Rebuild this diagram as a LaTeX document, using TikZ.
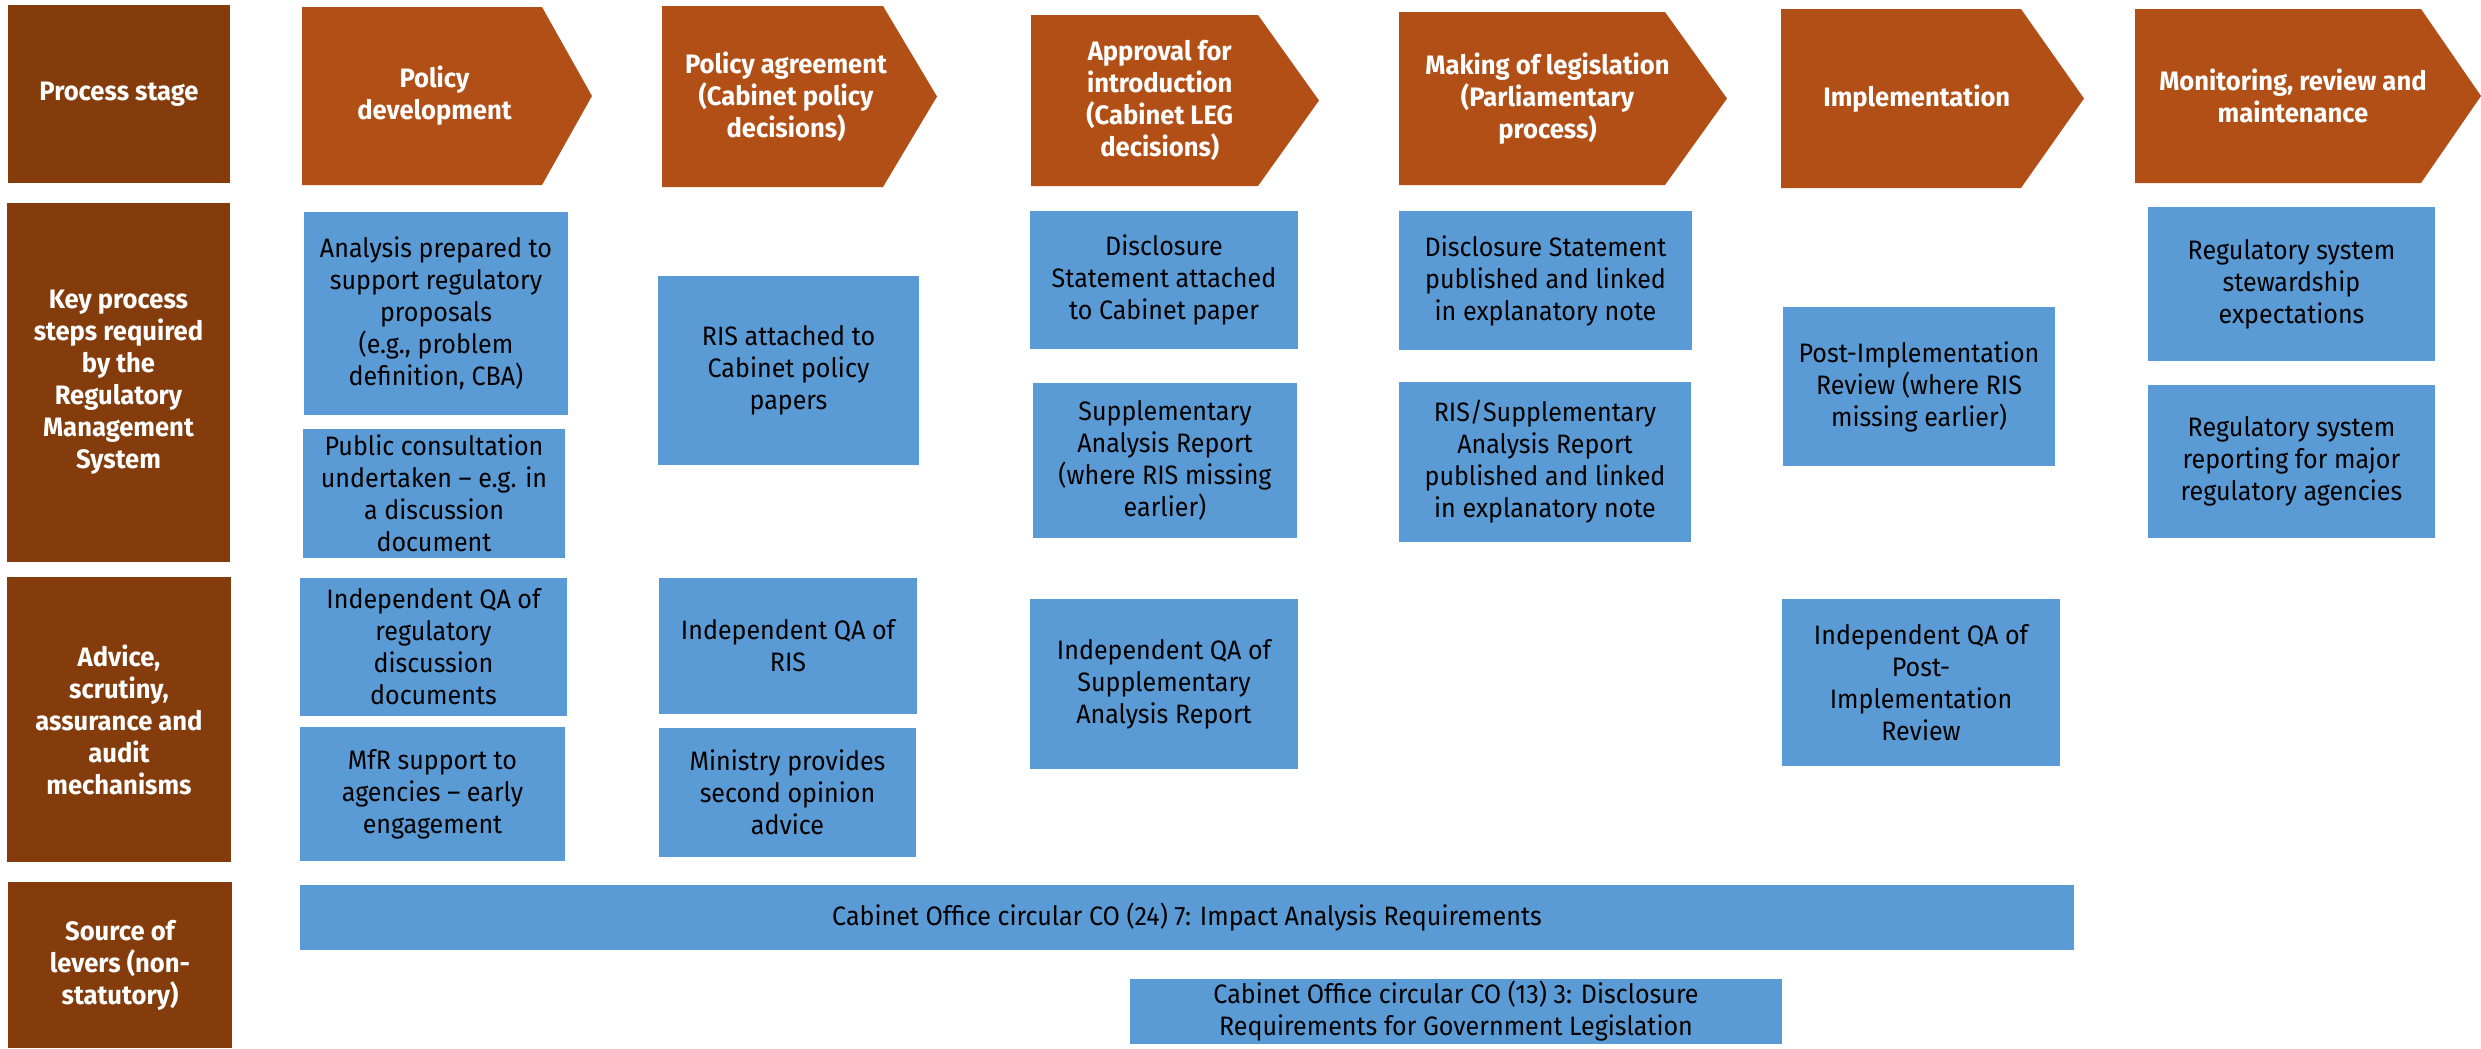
\documentclass[tikz,border=0pt]{standalone}
\usepackage{fontspec}
\setmainfont{Fira Sans}[FakeStretch=0.94]
\newfontfamily\hdfam{Fira Sans}[FakeStretch=0.96]
\definecolor{sidebrown}{HTML}{843C0C}
\definecolor{chevorange}{HTML}{B24F17}
\definecolor{boxblue}{HTML}{5B9BD5}
\newcommand\txtfont{\fontsize{8}{9.6}\selectfont}
\newcommand\hdfont{\hdfam\fontsize{8}{9.6}\selectfont\bfseries}
\tikzset{
  sidebox/.style={fill=sidebrown, text=white, font=\hdfont, align=center, inner sep=0pt},
  bluebox/.style={fill=boxblue, text=black, font=\txtfont, align=center, inner sep=0pt},
  headtext/.style={text=white, font=\hdfont, align=center, inner sep=0pt},
  chevfill/.style={fill=chevorange}
}
% #1 style, #2 name, #3 x1, #4 y1, #5 x2, #6 y2, #7 text
\newcommand\cell[7]{\node[#1, minimum width={(#5-#3)*0.3pt}, minimum height={(#6-#4)*0.3pt}] (#2) at ({(#3+#5)/2},{(#4+#6)/2}) {#7};}
% #1 name, #2 left, #3 top, #4 body right, #5 tip, #6 bottom, #7 text
\newcommand\chev[7]{\fill[chevfill] (#2,#3) -- (#4,#3) -- (#5,{(#3+#6)/2}) -- (#4,#6) -- (#2,#6) -- cycle;
  \node[headtext] (#1) at ({(#2+(#4+#5)/2)/2},{(#3+#6)/2}) {#7};}
\begin{document}
\begin{tikzpicture}[x=0.3pt,y=-0.3pt]
\useasboundingbox (0,0) rectangle (2481,1048);
% left column
\cell{sidebox}{rowstage}{8}{5}{230}{183}{Process stage}
\cell{sidebox}{rowkey}{7}{203}{230}{562}{Key process\\steps required\\by the\\Regulatory\\Management\\System}
\cell{sidebox}{rowadvice}{7}{577}{231}{862}{Advice,\\scrutiny,\\assurance and\\audit\\mechanisms}
\cell{sidebox}{rowsource}{8}{882}{232}{1048}{Source of\\levers (non-\\statutory)}
% chevrons
\chev{stage1}{302}{7}{542}{592}{185}{Policy\\development}
\chev{stage2}{662}{6}{883}{937}{187}{Policy agreement\\(Cabinet policy\\decisions)}
\chev{stage3}{1031}{15}{1258}{1319}{186}{Approval for\\introduction\\(Cabinet LEG\\decisions)}
\chev{stage4}{1399}{12}{1665}{1727}{185}{Making of legislation\\(Parliamentary\\process)}
\chev{stage5}{1781}{9}{2021}{2084}{188}{Implementation}
\chev{stage6}{2135}{9}{2421}{2481}{183}{Monitoring, review and\\maintenance}
% column 1
\cell{bluebox}{analysis}{304}{212}{568}{415}{Analysis prepared to\\support regulatory\\proposals\\(e.g., problem\\definition, CBA)}
\cell{bluebox}{consult}{303}{429}{565}{558}{Public consultation\\undertaken – e.g. in\\a discussion\\document}
\cell{bluebox}{qadisc}{300}{578}{567}{716}{Independent QA of\\regulatory\\discussion\\documents}
\cell{bluebox}{mfr}{300}{727}{565}{861}{MfR support to\\agencies – early\\engagement}
% column 2
\cell{bluebox}{risatt}{658}{276}{919}{465}{RIS attached to\\Cabinet policy\\papers}
\cell{bluebox}{qaris}{659}{578}{917}{714}{Independent QA of\\RIS}
\cell{bluebox}{ministry}{659}{728}{916}{857}{Ministry provides\\second opinion\\advice}
% column 3
\cell{bluebox}{discatt}{1030}{211}{1298}{349}{Disclosure\\Statement attached\\to Cabinet paper}
\cell{bluebox}{supp}{1033}{383}{1297}{538}{Supplementary\\Analysis Report\\(where RIS missing\\earlier)}
\cell{bluebox}{qasupp}{1030}{599}{1298}{769}{Independent QA of\\Supplementary\\Analysis Report}
% column 4
\cell{bluebox}{discpub}{1399}{211}{1692}{350}{Disclosure Statement\\published and linked\\in explanatory note}
\cell{bluebox}{risspub}{1399}{382}{1691}{542}{RIS/Supplementary\\Analysis Report\\published and linked\\in explanatory note}
% column 5
\cell{bluebox}{pir}{1783}{307}{2055}{466}{Post-Implementation\\Review (where RIS\\missing earlier)}
\cell{bluebox}{qapir}{1782}{599}{2060}{766}{Independent QA of\\Post-\\Implementation\\Review}
% column 6
\cell{bluebox}{stew}{2148}{207}{2435}{361}{Regulatory system\\stewardship\\expectations}
\cell{bluebox}{report}{2148}{385}{2435}{538}{Regulatory system\\reporting for major\\regulatory agencies}
% bottom row
\cell{bluebox}{co24}{300}{885}{2074}{950}{Cabinet Office circular CO (24) 7: Impact Analysis Requirements}
\cell{bluebox}{co13}{1130}{979}{1782}{1044}{Cabinet Office circular CO (13) 3: Disclosure\\Requirements for Government Legislation}
\end{tikzpicture}
\end{document}
